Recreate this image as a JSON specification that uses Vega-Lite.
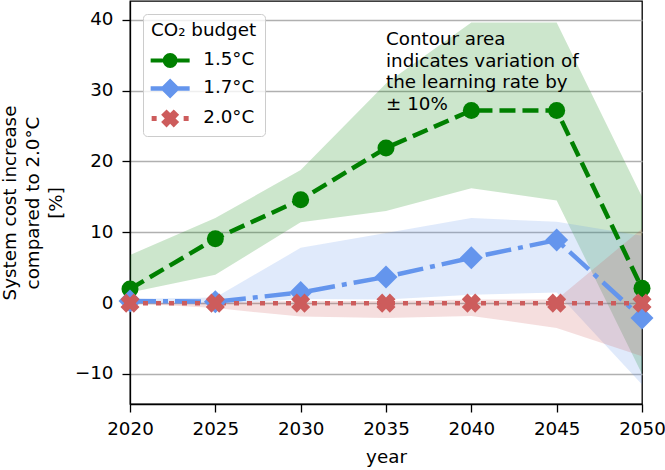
{
  "$schema": "https://vega.github.io/schema/vega-lite/v6.json",
  "width": 512,
  "height": 403,
  "autosize": {"type": "none"},
  "padding": {"left": 130, "top": 1, "right": 23, "bottom": 66},
  "background": "white",
  "data": {
    "values": [
      {"year": 2020, "series": "1.5°C", "value": 2.0, "lo": 1.5, "hi": 6.8},
      {"year": 2025, "series": "1.5°C", "value": 9.1, "lo": 4.0, "hi": 12.0},
      {"year": 2030, "series": "1.5°C", "value": 14.6, "lo": 11.4, "hi": 18.8},
      {"year": 2035, "series": "1.5°C", "value": 21.9, "lo": 13.0, "hi": 31.0},
      {"year": 2040, "series": "1.5°C", "value": 27.2, "lo": 16.2, "hi": 39.6},
      {"year": 2045, "series": "1.5°C", "value": 27.2, "lo": 14.5, "hi": 39.6},
      {"year": 2050, "series": "1.5°C", "value": 2.1, "lo": -10.0, "hi": 15.0},
      {"year": 2020, "series": "1.7°C", "value": 0.3, "lo": 0.0, "hi": 0.6},
      {"year": 2025, "series": "1.7°C", "value": 0.2, "lo": -0.2, "hi": 0.8},
      {"year": 2030, "series": "1.7°C", "value": 1.5, "lo": 0.6, "hi": 7.8},
      {"year": 2035, "series": "1.7°C", "value": 3.7, "lo": 0.5, "hi": 9.9},
      {"year": 2040, "series": "1.7°C", "value": 6.4, "lo": 1.2, "hi": 12.0},
      {"year": 2045, "series": "1.7°C", "value": 8.9, "lo": 1.5, "hi": 11.5},
      {"year": 2050, "series": "1.7°C", "value": -2.1, "lo": -11.5, "hi": 9.5},
      {"year": 2020, "series": "2.0°C", "value": 0, "lo": 0.0, "hi": 0.0},
      {"year": 2025, "series": "2.0°C", "value": 0, "lo": -0.7, "hi": 0.1},
      {"year": 2030, "series": "2.0°C", "value": 0, "lo": -1.9, "hi": 0.3},
      {"year": 2035, "series": "2.0°C", "value": 0, "lo": -2.1, "hi": 0.3},
      {"year": 2040, "series": "2.0°C", "value": 0, "lo": -1.8, "hi": 0.5},
      {"year": 2045, "series": "2.0°C", "value": 0, "lo": -3.5, "hi": 0.5},
      {"year": 2050, "series": "2.0°C", "value": 0, "lo": -7.5, "hi": 10.5}
    ]
  },
  "encoding": {
    "x": {
      "field": "year",
      "type": "quantitative",
      "scale": {"domain": [2020, 2050], "nice": false, "zero": false},
      "axis": {
        "values": [2020, 2025, 2030, 2035, 2040, 2045, 2050],
        "format": "d",
        "grid": false,
        "labelFlush": false,
        "labelPadding": 8,
        "title": "year",
        "titlePadding": 11
      }
    },
    "y": {
      "field": "value",
      "type": "quantitative",
      "scale": {"domain": [-14.24, 42.65], "nice": false, "zero": false},
      "axis": {
        "values": [-10, 0, 10, 20, 30, 40],
        "grid": true,
        "gridColor": "#b0b0b0",
        "gridWidth": 1.5,
        "labelPadding": 9,
        "title": ["System cost increase", "compared to 2.0°C", "[%]"],
        "titlePadding": 9,
        "titleLineHeight": 23
      }
    },
    "color": {
      "field": "series",
      "type": "nominal",
      "scale": {"domain": ["1.5°C", "1.7°C", "2.0°C"], "range": ["#008000", "#6495ED", "#CD5C5C"]},
      "legend": {
        "title": "CO₂ budget",
        "orient": "top-left",
        "offset": 13,
        "padding": 8,
        "fillColor": "rgba(255,255,255,0.8)",
        "strokeColor": "#cccccc",
        "cornerRadius": 4,
        "symbolSize": 100,
        "symbolOffset": 10,
        "symbolStrokeWidth": 0,
        "symbolOpacity": 1,
        "labelOffset": 24,
        "rowPadding": 9,
        "titlePadding": 11,
        "labelFontSize": 18.3,
        "titleFontSize": 18.3,
        "titleFontWeight": "normal"
      }
    }
  },
  "layer": [
    {
      "mark": {"type": "area", "opacity": 0.2},
      "encoding": {
        "y": {"field": "lo", "type": "quantitative"},
        "y2": {"field": "hi"}
      }
    },
    {
      "mark": {"type": "line", "strokeWidth": 4.5},
      "encoding": {
        "strokeDash": {
          "field": "series",
          "type": "nominal",
          "scale": {"domain": ["1.5°C", "1.7°C", "2.0°C"], "range": [[16, 7], [26, 7, 5, 7], [5, 8]]},
          "legend": null
        }
      }
    },
    {
      "transform": [{"filter": "datum.series === '1.5°C'"}],
      "mark": {"type": "point", "filled": true, "opacity": 1, "size": 289, "strokeWidth": 0, "shape": "circle"}
    },
    {
      "transform": [{"filter": "datum.series === '1.7°C'"}],
      "mark": {"type": "point", "filled": true, "opacity": 1, "size": 289, "strokeWidth": 0, "shape": "M-1.35,0L0,-1.35L1.35,0L0,1.35Z"}
    },
    {
      "transform": [{"filter": "datum.series === '2.0°C'"}],
      "mark": {"type": "point", "filled": true, "opacity": 1, "size": 289, "strokeWidth": 0, "shape": "M-1.12,-0.45L-0.45,-1.12L0,-0.67L0.45,-1.12L1.12,-0.45L0.67,0L1.12,0.45L0.45,1.12L0,0.67L-0.45,1.12L-1.12,0.45L-0.67,0Z"}
    },
    {
      "transform": [{"filter": "datum.year === 2020"}],
      "mark": {"type": "point", "filled": true, "opacity": 0, "size": 100, "strokeWidth": 0},
      "encoding": {
        "shape": {
          "field": "series",
          "type": "nominal",
          "scale": {
            "domain": ["1.5°C", "1.7°C", "2.0°C"],
            "range": [
              "M-3.9,-0.4H-1.45V0.4H-3.9Z M1.45,-0.4H3.9V0.4H1.45Z M1.5,0L1.386,0.574L1.061,1.061L0.574,1.386L0,1.5L-0.574,1.386L-1.061,1.061L-1.386,0.574L-1.5,0L-1.386,-0.574L-1.061,-1.061L-0.574,-1.386L0,-1.5L0.574,-1.386L1.061,-1.061L1.386,-0.574Z",
              "M-3.9,-0.45H-1.55V0.45H-3.9Z M1.55,-0.45H3.9V0.45H1.55Z M-2,0L0,-2L2,0L0,2Z",
              "M-3.7,-0.5H-2.7V0.5H-3.7Z M2.7,-0.5H3.7V0.5H2.7Z M-1.8,-0.72L-0.72,-1.8L0,-1.08L0.72,-1.8L1.8,-0.72L1.08,0L1.8,0.72L0.72,1.8L0,1.08L-0.72,1.8L-1.8,0.72L-1.08,0Z"
            ]
          },
          "legend": {
            "title": "CO₂ budget",
            "orient": "top-left",
            "offset": 13,
            "padding": 8,
            "fillColor": "rgba(255,255,255,0.8)",
            "strokeColor": "#cccccc",
            "cornerRadius": 4,
            "symbolSize": 100,
            "symbolOffset": 10,
            "symbolStrokeWidth": 0,
            "symbolOpacity": 1,
            "labelOffset": 24,
            "rowPadding": 9,
            "titlePadding": 11,
            "labelFontSize": 18.3,
            "titleFontSize": 18.3,
            "titleFontWeight": "normal"
          }
        }
      }
    },
    {
      "data": {
        "values": [
          {"year": 2035, "value": 38.4, "note": "Contour area\nindicates variation of\nthe learning rate by\n± 10%"}
        ]
      },
      "mark": {
        "type": "text",
        "align": "left",
        "baseline": "top",
        "lineBreak": "\n",
        "lineHeight": 21.5,
        "fontSize": 18.3,
        "color": "black"
      },
      "encoding": {
        "text": {"field": "note", "type": "nominal"},
        "color": {"value": "black"}
      }
    }
  ],
  "config": {
    "font": "DejaVu Sans",
    "view": {"stroke": "black", "strokeWidth": 1.3},
    "axis": {
      "domainColor": "black",
      "domainWidth": 1.3,
      "tickColor": "black",
      "tickWidth": 1.3,
      "tickSize": 8,
      "labelColor": "black",
      "titleColor": "black",
      "labelFont": "DejaVu Sans",
      "titleFont": "DejaVu Sans",
      "labelFontSize": 18.3,
      "titleFontSize": 18.3,
      "titleFontWeight": "normal"
    },
    "legend": {
      "labelColor": "black",
      "titleColor": "black",
      "labelFont": "DejaVu Sans",
      "titleFont": "DejaVu Sans"
    },
    "text": {"font": "DejaVu Sans"}
  }
}
